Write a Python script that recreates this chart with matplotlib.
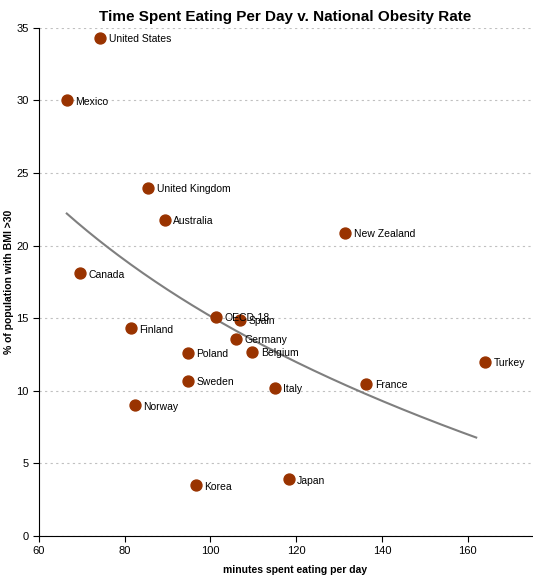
import numpy as np
import matplotlib.pyplot as plt

plt.rcParams['font.family'] = ['Liberation Sans', 'DejaVu Sans']

countries = ['United States', 'Mexico', 'United Kingdom', 'Australia', 'New Zealand',
             'Canada', 'OECD-18', 'Spain', 'Germany', 'Belgium', 'Finland', 'Poland',
             'Turkey', 'France', 'Sweden', 'Italy', 'Norway', 'Korea', 'Japan']
minutes = [74.3, 66.5, 85.5, 89.4, 131.5, 69.6, 101.4, 107.0, 106.0, 109.8, 81.5, 94.8,
           164.1, 136.4, 94.8, 115.1, 82.4, 96.7, 118.3]
obesity = [34.3, 30.0, 24.0, 21.8, 20.9, 18.1, 15.1, 14.9, 13.6, 12.7, 14.3, 12.6,
           12.0, 10.5, 10.7, 10.2, 9.0, 3.5, 3.9]
trend_end = 162

x = np.array(minutes)
y = np.array(obesity)

fig = plt.figure(figsize=(5.33, 5.78), dpi=100)
ax = fig.add_axes([0.073, 0.0727, 0.925, 0.879])

# logarithmic trend line
m, n = np.polyfit(np.log(x), y, 1)
xs = np.linspace(x.min(), trend_end, 200)
ax.plot(xs, m * np.log(xs) + n, color='#7f7f7f', lw=1.5, zorder=2)

ax.scatter(x, y, s=62, color='#993300', zorder=3)
for name, xi, yi in zip(countries, x, y):
    ax.annotate(name, (xi, yi), xytext=(6, -1), textcoords='offset points',
                va='center', ha='left', fontsize=7.5, zorder=4)

ax.set_xlim(60, 175)
ax.set_ylim(0, 35)
ax.set_xticks(range(60, 161, 20))
ax.set_yticks(range(0, 36, 5))
ax.yaxis.grid(True, linestyle=(0, (2, 3)), color='#c0c0c0', lw=0.8)
ax.set_axisbelow(True)
ax.spines['top'].set_visible(False)
ax.spines['right'].set_visible(False)
ax.tick_params(labelsize=8, length=4, direction='out')

ax.set_title('Time Spent Eating Per Day v. National Obesity Rate', fontsize=11,
             fontweight='bold', pad=5)
ax.set_xlabel('minutes spent eating per day', fontsize=7.5, fontweight='bold')
ax.set_ylabel('% of population with BMI >30', fontsize=7.5, fontweight='bold')
ax.xaxis.set_label_coords(0.52, -0.058)
ax.yaxis.set_label_coords(-0.05, 0.5)

fig.savefig('out.png', dpi=100)
